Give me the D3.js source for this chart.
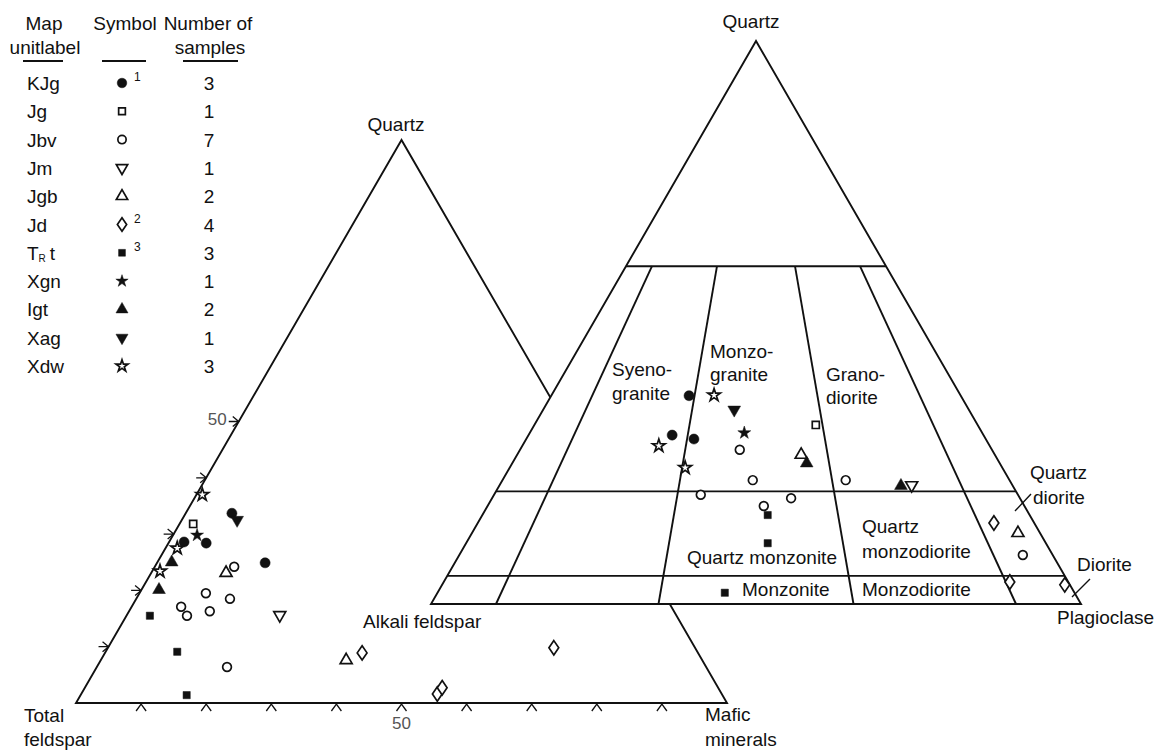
<!DOCTYPE html>
<html>
<head>
<meta charset="utf-8">
<script src="https://cdn.jsdelivr.net/npm/d3@7"></script>
<style>
  html, body { margin: 0; padding: 0; background: #fff; }
  svg { display: block; font-family: "Liberation Sans", Arial, sans-serif; }
</style>
</head>
<body>
<svg id="chart" width="1166" height="752"></svg>
<script>
// ---- legend data ----
const unitLabels   = ["KJg", "Jg", "Jbv", "Jm", "Jgb", "Jd", "TRt", "Xgn", "Igt", "Xag", "Xdw"];
const unitSymbols  = ["circle", "square", "circle", "triangleDown", "triangle", "diamond", "square", "star", "triangle", "triangleDown", "star"];
const unitFilled   = [true, false, false, false, false, false, true, true, true, true, false];
const sampleCounts = [3, 1, 7, 1, 2, 4, 3, 1, 2, 1, 3];
const footnotes    = { KJg: "1", Jd: "2", TRt: "3" };

// ---- left diagram: quartz / total feldspar / mafic minerals  [unit, Q, M] ----
const qfmPoints = [
  ["Xdw", 37.0, 0.9], ["KJg", 33.7, 7.1], ["Xag", 32.5, 8.5], ["Jg", 31.8, 2.1],
  ["Xgn", 29.8, 3.7], ["KJg", 28.6, 2.3], ["KJg", 28.4, 5.8], ["Xdw", 27.5, 1.8],
  ["Igt", 25.0, 2.2], ["KJg", 24.9, 16.6], ["Jbv", 24.2, 12.2], ["Jgb", 23.1, 11.5],
  ["Xdw", 23.4, 1.2], ["Igt", 20.1, 2.7], ["Jbv", 19.5, 10.2], ["Jbv", 18.5, 14.4],
  ["Jbv", 17.1, 7.6], ["Jbv", 15.5, 9.3], ["Jbv", 16.3, 12.4], ["TRt", 15.5, 3.6],
  ["TRt", 9.1, 11.0], ["TRt", 1.4, 16.3], ["Jbv", 6.4, 20.0], ["Jm", 15.6, 23.5],
  ["Jgb", 7.6, 37.7], ["Jd", 8.9, 39.5], ["Jd", 9.8, 68.5], ["Jd", 1.6, 54.7],
  ["Jd", 2.7, 54.9]
];

// ---- right diagram: QAP  [unit, Q, P] ----
const qapPoints = [
  ["KJg", 37.0, 21.2], ["Xdw", 37.1, 25.0], ["Xag", 34.5, 29.4], ["KJg", 30.0, 22.1],
  ["KJg", 29.3, 25.8], ["Xgn", 30.4, 33.0], ["Jg", 31.8, 43.3], ["Xdw", 28.1, 21.0],
  ["Jbv", 27.4, 33.8], ["Jgb", 26.5, 43.7], ["Igt", 25.0, 45.3], ["Xdw", 24.2, 27.0],
  ["Jbv", 22.0, 38.5], ["Jbv", 22.0, 52.8], ["Igt", 21.0, 61.8], ["Jm", 21.1, 63.4],
  ["Jbv", 19.4, 31.8], ["Jbv", 18.8, 46.0], ["Jbv", 17.4, 42.5], ["TRt", 15.8, 43.9],
  ["TRt", 10.8, 46.4], ["TRt", 2.0, 44.2], ["Jd", 14.4, 79.4], ["Jgb", 12.6, 84.0],
  ["Jbv", 8.7, 86.7], ["Jd", 3.9, 87.1], ["Jd", 3.4, 95.8]
];

const qfmLeftTicks = [10, 20, 30, 40, 50];
const qfmBaseTicks = [10, 20, 30, 40, 50, 60, 70, 80, 90];
const qapQLines    = [60, 20, 5];
const qapPRatios   = [10, 35, 65, 90];

const svg = d3.select("#chart");
const ink = "#111";
const lw = 1.9;

// scales
const xq = d3.scaleLinear().domain([0, 100]).range([76, 727]);
const yq = d3.scaleLinear().domain([0, 100]).range([703, 140]);
const qfmPos = (q, m) => [xq(m + q / 2), yq(q)];

const xa = d3.scaleLinear().domain([0, 100]).range([431, 1081]);
const ya = d3.scaleLinear().domain([0, 100]).range([604, 41]);
const qapPos = (q, p) => [xa(p + q / 2), ya(q)];

const line = d3.line();

// wider diamond than d3's built-in one
const symbolWideDiamond = {
  draw(ctx, size) {
    const h = Math.sqrt(size / 1.35), w = h * 0.68;
    ctx.moveTo(0, -h); ctx.lineTo(w, 0); ctx.lineTo(0, h); ctx.lineTo(-w, 0); ctx.closePath();
  }
};

// symbol drawing: [type, size filled, size open, rotation]
const symTypes = {
  circle: [d3.symbolCircle, 80, 60, 0],
  square: [d3.symbolSquare, 52, 50, 0],
  triangle: [d3.symbolTriangle, 70, 62, 0],
  triangleDown: [d3.symbolTriangle, 70, 62, 180],
  diamond: [symbolWideDiamond, 70, 70, 0],
  star: [d3.symbolStar, 52, 50, 0]
};
const unitIndex = new Map(unitLabels.map((u, i) => [u, i]));

function drawSymbol(g, unit, x, y, scale) {
  const i = unitIndex.get(unit);
  const [type, sFill, sOpen, rot] = symTypes[unitSymbols[i]];
  const size = (unitFilled[i] ? sFill : sOpen) * (scale || 1);
  g.append("path")
    .attr("d", d3.symbol().type(type).size(size)())
    .attr("transform", `translate(${x},${y}) rotate(${rot})`)
    .attr("fill", unitFilled[i] ? ink : "#fff")
    .attr("stroke", ink)
    .attr("stroke-linejoin", "miter")
    .attr("stroke-width", unitFilled[i] ? 0.5 : 1.7);
}

// ---------------- left triangle ----------------
const left = svg.append("g");
left.append("path")
  .attr("d", line([qfmPos(100, 0), qfmPos(0, 0), qfmPos(0, 100)]) + "Z")
  .attr("fill", "none").attr("stroke", ink).attr("stroke-width", lw)
  .attr("stroke-linejoin", "miter");

qfmLeftTicks.forEach(t => {
  const [x, y] = qfmPos(t, 0);
  left.append("path")
    .attr("d", `M${x - 10},${y}L${x},${y}M${x - 6},${y - 5}L${x},${y}L${x - 6},${y + 5}`)
    .attr("fill", "none").attr("stroke", ink).attr("stroke-width", 1.3);
});
qfmBaseTicks.forEach(t => {
  const [x, y] = qfmPos(0, t);
  left.append("path")
    .attr("d", `M${x - 5},${y + 8}L${x},${y + 1}L${x + 5},${y + 8}`)
    .attr("fill", "none").attr("stroke", ink).attr("stroke-width", 1.3);
});
{
  const [x, y] = qfmPos(50, 0);
  left.append("text").attr("x", x - 12).attr("y", y + 3).attr("text-anchor", "end")
    .attr("font-size", 17).attr("fill", "#555").text("50");
  const [bx, by] = qfmPos(0, 50);
  left.append("text").attr("x", bx).attr("y", by + 26).attr("text-anchor", "middle")
    .attr("font-size", 17).attr("fill", "#555").text("50");
}

qfmPoints.forEach(([u, q, m]) => {
  const [x, y] = qfmPos(q, m);
  drawSymbol(left, u, x, y);
});

// ---------------- right QAP diagram ----------------
const qap = svg.append("g");
qap.append("path")
  .attr("d", line([qapPos(100, 0), qapPos(0, 0), qapPos(0, 100)]) + "Z")
  .attr("fill", "#fff").attr("stroke", ink).attr("stroke-width", lw);

qapQLines.forEach(q => {
  qap.append("path")
    .attr("d", line([qapPos(q, 0), qapPos(q, 100 - q)]))
    .attr("stroke", ink).attr("stroke-width", lw);
});
qapPRatios.forEach(r => {
  qap.append("path")
    .attr("d", line([qapPos(60, 40 * r / 100), qapPos(0, r)]))
    .attr("stroke", ink).attr("stroke-width", lw);
});
// leader ticks for narrow fields
qap.append("path").attr("d", "M1015,511L1031,494M1072,597L1090,579")
  .attr("stroke", ink).attr("stroke-width", 1.4);

qapPoints.forEach(([u, q, p]) => {
  const [x, y] = qapPos(q, p);
  drawSymbol(qap, u, x, y);
});

// ---------------- text labels ----------------
const labels = svg.append("g").attr("font-size", 19).attr("fill", "#111");
const addText = (x, y, t, anchor) =>
  labels.append("text").attr("x", x).attr("y", y)
    .attr("text-anchor", anchor || "start").text(t);

addText(396, 131, "Quartz", "middle");
addText(751, 28, "Quartz", "middle");
addText(24, 722, "Total");
addText(24, 746, "feldspar");
addText(705, 721, "Mafic");
addText(705, 746, "minerals");
addText(363, 628, "Alkali feldspar");
addText(1057, 624, "Plagioclase");
addText(612, 376, "Syeno-");
addText(612, 400, "granite");
addText(710, 358, "Monzo-");
addText(710, 381, "granite");
addText(826, 381, "Grano-");
addText(826, 404, "diorite");
addText(862, 533, "Quartz");
addText(862, 558, "monzodiorite");
addText(687, 564, "Quartz monzonite");
addText(742, 596, "Monzonite");
addText(862, 596, "Monzodiorite");
addText(1030, 479, "Quartz");
addText(1033, 504, "diorite");
addText(1077, 571, "Diorite");

// ---------------- legend ----------------
const leg = svg.append("g").attr("font-size", 19).attr("fill", "#111");
leg.append("text").attr("x", 44).attr("y", 30).attr("text-anchor", "middle").text("Map");
leg.append("text").attr("x", 45).attr("y", 54).attr("text-anchor", "middle").text("unitlabel");
leg.append("text").attr("x", 125).attr("y", 30).attr("text-anchor", "middle").text("Symbol");
leg.append("text").attr("x", 208).attr("y", 30).attr("text-anchor", "middle").text("Number of");
leg.append("text").attr("x", 210).attr("y", 54).attr("text-anchor", "middle").text("samples");
leg.append("path").attr("d", "M23,61H63M102,61H146M183,61H238")
  .attr("stroke", ink).attr("stroke-width", 1.8);

const rowY = d3.scaleLinear().domain([0, unitLabels.length - 1]).range([83, 366]);
unitLabels.forEach((u, i) => {
  const y = rowY(i);
  const t = leg.append("text").attr("x", 27).attr("y", y + 7);
  if (u === "TRt") {
    // Triassic symbol: T with a small R at its foot
    t.append("tspan").text("T");
    t.append("tspan").attr("dx", 0).attr("dy", 2).attr("font-size", 10).text("R");
    t.append("tspan").attr("dx", 4).attr("dy", -2).text("t");
  } else {
    t.text(u);
  }
  drawSymbol(leg, u, 122, y, 0.9);
  if (footnotes[u]) {
    leg.append("text").attr("x", 134).attr("y", y - 2).attr("font-size", 12).text(footnotes[u]);
  }
  leg.append("text").attr("x", 209).attr("y", y + 7).attr("text-anchor", "middle").text(sampleCounts[i]);
});
</script>
</body>
</html>
